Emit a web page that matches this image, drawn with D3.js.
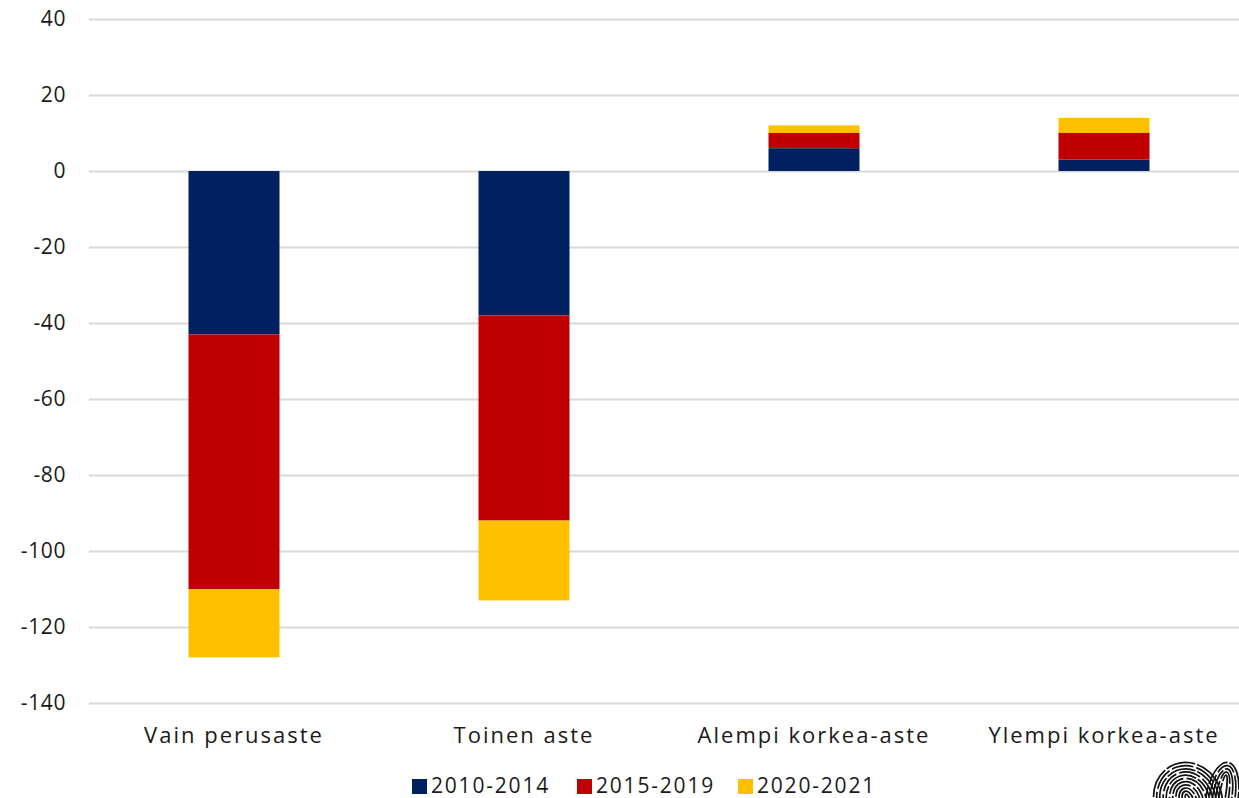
<!DOCTYPE html>
<html><head><meta charset="utf-8">
<script src="https://cdn.jsdelivr.net/npm/d3@7"></script>
<style>
html,body{margin:0;padding:0;background:#fff;}
text{font-family:"Open Sans",sans-serif;fill:#1a1a1a;}
</style></head>
<body><svg id="chart" width="1239" height="798"></svg>
<script>
const categories = ["Vain perusaste", "Toinen aste", "Alempi korkea-aste", "Ylempi korkea-aste"];
const seriesNames = ["2010-2014", "2015-2019", "2020-2021"];
const s2010_2014 = [-43, -38, 6, 3];
const s2015_2019 = [-67, -54, 4, 7];
const s2020_2021 = [-18, -21, 2, 4];
const yTicks = [40, 20, 0, -20, -40, -60, -80, -100, -120, -140];
const colors = ["#002060", "#C00000", "#FFC000"];

(function () {
const seriesValues = [s2010_2014, s2015_2019, s2020_2021];
const svg = d3.select("#chart");
const W = 1239;
const pLeft = 89, pRight = 1249, pTop = 19, pBottom = 703;

const x = d3.scaleBand().domain(categories).range([pLeft, pRight]);
const y = d3.scaleLinear().domain([-140, 40]).range([pBottom, pTop]);
const barW = x.bandwidth() * 91 / 290;

// gridlines
svg.append("g").selectAll("line").data(yTicks).join("line")
  .attr("x1", pLeft).attr("x2", W)
  .attr("y1", d => Math.round(y(d)) + 0.5).attr("y2", d => Math.round(y(d)) + 0.5)
  .attr("stroke", "#d9d9d9").attr("stroke-width", 2);

// y labels
const yAxis = d3.axisLeft(y).tickValues(yTicks).tickSize(0).tickPadding(0).tickFormat(d => String(d));
const ga = svg.append("g").attr("transform", `translate(66,0)`).call(yAxis);
ga.select(".domain").remove();
ga.selectAll("text").attr("font-size", 21).attr("font-family", "Open Sans").attr("fill", "#1a1a1a").attr("letter-spacing", 0.6);

// stacked bars (positives stack upward, negatives downward)
const rects = [];
categories.forEach((c, i) => {
  let pos = 0, neg = 0;
  seriesValues.forEach((vals, s) => {
    const v = vals[i];
    let y0, y1;
    if (v >= 0) { y0 = pos; y1 = pos + v; pos = y1; }
    else { y0 = neg; y1 = neg + v; neg = y1; }
    rects.push({c, s, y0, y1});
  });
});
svg.append("g").selectAll("rect").data(rects).join("rect")
  .attr("x", d => x(d.c) + (x.bandwidth() - barW) / 2)
  .attr("width", barW)
  .attr("y", d => y(Math.max(d.y0, d.y1)))
  .attr("height", d => Math.abs(y(d.y0) - y(d.y1)))
  .attr("fill", d => colors[d.s]);

// x labels
const xAxis = d3.axisBottom(x).tickSize(0).tickPadding(0);
const gx = svg.append("g").attr("transform", `translate(0,${pBottom})`).call(xAxis);
gx.select(".domain").remove();
gx.selectAll("text").attr("dy", null).attr("y", 40).attr("font-size", 22).attr("font-family", "Open Sans").attr("fill", "#1a1a1a").attr("letter-spacing", 2);

// legend
const legendX = [412, 577, 738];
const lg = svg.append("g");
seriesNames.forEach((n, i) => {
  lg.append("rect").attr("x", legendX[i]).attr("y", 779).attr("width", 15).attr("height", 15).attr("fill", colors[i]);
  lg.append("text").attr("x", legendX[i] + 19).attr("y", 793).attr("font-size", 21).attr("letter-spacing", 1.8).text(n);
});

// fingerprint-like logo
const clip = svg.append("defs").append("clipPath").attr("id", "lc");
clip.append("rect").attr("x", 1150).attr("y", 758).attr("width", 89).attr("height", 40);
const lgG = svg.append("g").attr("clip-path", "url(#lc)");
function fp(cx, cy, rx, ry, rot, n) {
  const g = lgG.append("g").attr("transform", `translate(${cx},${cy}) rotate(${rot})`);
  for (let k = 0; k < n; k++) {
    const a = rx - k * 3.2, b = ry - k * 3.2;
    if (a <= 1 || b <= 1) break;
    g.append("ellipse").attr("rx", a).attr("ry", b)
      .attr("fill", "none").attr("stroke", "#111").attr("stroke-width", 1.7)
      .attr("stroke-dasharray", k % 2 ? "22 3" : "30 2");
  }
}
fp(1188, 800, 34, 38, -20, 12);
fp(1222, 798, 16, 36, 10, 6);
})();
</script></body></html>
